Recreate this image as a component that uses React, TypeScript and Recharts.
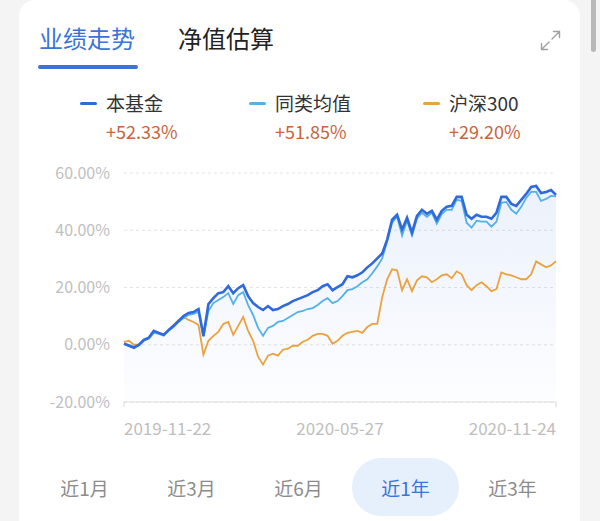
import React from "react";
import { ComposedChart, Area, Line, XAxis, YAxis, CartesianGrid } from "recharts";

// 业绩走势 (近1年) — cumulative return, %
const fund = [
  0.35, -0.35, -1.04, 0, 1.73, 2.43, 4.85, 4.16, 3.47, 5.2, 6.59, 8.32, 10.05, 11.09, 11.44, 12.48,
  3.12, 14.21, 16.29, 18.02, 18.37, 20.45, 18.02, 19.76, 20.8, 16.98, 14.56, 13.17, 12.13, 13.52, 12.13, 12.48,
  13.52, 14.21, 15.25, 15.94, 16.64, 17.33, 18.37, 19.06, 20.45, 21.14, 19.06, 20.1, 21.14, 23.92, 23.57, 24.26,
  25.3, 27.04, 28.42, 30.16, 31.89, 36.74, 43.67, 45.41, 40.21, 44.37, 39.17, 45.06, 47.14, 45.75, 46.79, 43.67,
  46.79, 48.18, 48.53, 51.65, 51.65, 45.41, 44.02, 45.41, 44.71, 44.71, 44.02, 46.1, 51.65, 51.65, 49.22, 48.53,
  50.61, 52.69, 55.11, 55.46, 53.03, 53.38, 54.07, 52.33,
];
const peer = [
  0.35, 0, -0.69, -0.35, 1.39, 2.08, 4.16, 3.81, 3.12, 4.85, 6.24, 7.97, 9.36, 10.4, 10.75, 11.44,
  2.77, 11.79, 14.56, 15.6, 16.64, 18.02, 14.21, 17.33, 18.37, 13.86, 10.4, 5.89, 3.12, 5.89, 6.59, 7.97,
  8.32, 9.36, 10.4, 11.44, 11.79, 12.48, 12.82, 13.86, 15.25, 16.29, 14.56, 15.25, 16.98, 19.06, 19.41, 20.45,
  21.84, 22.88, 24.96, 27.38, 30.16, 36.05, 42.63, 44.71, 38.13, 43.33, 38.13, 44.02, 46.1, 44.71, 46.1, 42.29,
  45.75, 47.14, 47.14, 50.61, 50.26, 42.63, 40.9, 43.33, 42.98, 42.98, 41.25, 42.98, 49.57, 49.91, 47.14, 45.75,
  48.18, 51.3, 53.38, 53.38, 50.26, 50.95, 51.99, 51.85,
];
const csi300 = [
  1.04, 1.39, 0, 0, 1.39, 2.43, 4.51, 4.16, 3.47, 5.2, 6.93, 8.67, 9.71, 8.67, 7.97, 6.93,
  -3.47, 1.39, 3.12, 4.51, 7.28, 7.97, 3.47, 6.59, 9.71, 4.85, 1.39, -4.16, -6.93, -3.81, -3.12, -3.81,
  -1.73, -1.39, -0.35, -0.35, 1.04, 1.73, 3.12, 3.81, 3.81, 3.12, 0.35, 1.39, 3.12, 4.16, 4.51, 4.85,
  4.16, 6.24, 7.28, 7.28, 16.64, 22.88, 26.34, 26.0, 19.06, 22.88, 18.72, 22.53, 23.92, 23.57, 21.84, 22.88,
  24.26, 24.61, 23.22, 25.65, 24.61, 20.8, 19.06, 20.8, 21.84, 20.45, 18.72, 19.41, 25.3, 24.61, 24.26, 23.57,
  22.88, 22.88, 24.61, 29.12, 28.08, 27.04, 27.73, 29.2,
];

const xLabels = ["2019-11-22", "2020-05-27", "2020-11-24"];
const yTicks = [-20, 0, 20, 40, 60];
const tabs = ["业绩走势", "净值估算"];
const ranges = ["近1月", "近3月", "近6月", "近1年", "近3年"];
const activeRange = "近1年";

const legendItems = [
  { name: "本基金", value: "+52.33%", color: "#3069dc", left: 80 },
  { name: "同类均值", value: "+51.85%", color: "#52b2e8", left: 249 },
  { name: "沪深300", value: "+29.20%", color: "#eaa23f", left: 423 },
];

const data = fund.map((v, i) => ({ i, fund: v, peer: peer[i], csi: csi300[i] }));
const last = fund.length - 1;
const xTicks = [0, last / 2, last];

const FONT = '"Noto Sans CJK SC", "Noto Sans", sans-serif';
const BLUE = "#3b74d8";

const XTick = (props: any) => {
  const { x, y, payload } = props;
  const idx = xTicks.indexOf(payload.value);
  const anchor = idx === 0 ? "start" : idx === xTicks.length - 1 ? "end" : "middle";
  return (
    <g>
      {idx !== 1 && <line x1={x} x2={x} y1={y - 8} y2={y - 3} stroke="#d6d6d6" />}
      <text x={x} y={y + 25} textAnchor={anchor} fill="#bebebe" fontSize={17} fontFamily={FONT}>
        {xLabels[idx]}
      </text>
    </g>
  );
};

export default function App() {
  return (
    <div
      style={{
        position: "fixed",
        left: 0,
        top: 0,
        width: 600,
        height: 521,
        background: "#f4f4f4",
        overflow: "hidden",
        fontFamily: FONT,
      }}
    >
      {/* card */}
      <div
        style={{
          position: "absolute",
          left: 19,
          top: 0,
          width: 561,
          height: 560,
          background: "#fff",
          borderRadius: 16,
        }}
      />
      {/* scrollbar */}
      <div style={{ position: "absolute", left: 591, top: -4, width: 5, height: 56, borderRadius: 3, background: "#b8b8b8" }} />

      {/* tabs */}
      {tabs.map((t, i) => (
        <div
          key={t}
          style={{
            position: "absolute",
            left: i === 0 ? 39 : 178,
            top: 24,
            fontSize: 24,
            lineHeight: "28px",
            color: i === 0 ? BLUE : "#222",
            whiteSpace: "nowrap",
          }}
        >
          {t}
        </div>
      ))}
      <div style={{ position: "absolute", left: 38, top: 65, width: 100, height: 4, borderRadius: 2, background: BLUE }} />

      {/* expand icon */}
      <svg style={{ position: "absolute", left: 540, top: 30 }} width={21} height={21} viewBox="0 0 21 21">
        <g stroke="#a0a0a0" strokeWidth={1.4} fill="none" strokeLinecap="round">
          <path d="M12 9 L19.5 1.5 M13.5 1.5 H19.5 V7.5" />
          <path d="M9 12 L1.5 19.5 M1.5 13.5 V19.5 H7.5" />
        </g>
      </svg>

      {/* legend */}
      {legendItems.map((it) => (
        <div key={it.name}>
          <div
            style={{
              position: "absolute",
              left: it.left,
              top: 102,
              width: 17,
              height: 3,
              borderRadius: 1.5,
              background: it.color,
            }}
          />
          <div
            style={{
              position: "absolute",
              left: it.left + 26,
              top: 91,
              fontSize: 19,
              lineHeight: "24px",
              color: "#333",
              whiteSpace: "nowrap",
            }}
          >
            {it.name}
          </div>
          <div
            style={{
              position: "absolute",
              left: it.left + 26,
              top: 119,
              fontSize: 18,
              lineHeight: "24px",
              color: "#c8643c",
              whiteSpace: "nowrap",
            }}
          >
            {it.value}
          </div>
        </div>
      ))}

      {/* chart */}
      <div style={{ position: "absolute", left: 0, top: 150 }}>
        <ComposedChart width={600} height={300} data={data} margin={{ top: 23, right: 44, left: 50, bottom: 18 }}>
          <defs>
            <linearGradient id="fundFill" x1="0" y1="0" x2="0" y2="1">
              <stop offset="0%" stopColor="#3d74db" stopOpacity={0.17} />
              <stop offset="100%" stopColor="#3d74db" stopOpacity={0.02} />
            </linearGradient>
          </defs>
          <CartesianGrid vertical={false} stroke="#e4e4e4" strokeDasharray="3 3" />
          <XAxis
            dataKey="i"
            type="number"
            domain={[0, last]}
            ticks={xTicks}
            interval={0}
            height={30}
            axisLine={{ stroke: "#dedede" }}
            tickLine={false}
            tick={<XTick />}
          />
          <YAxis
            type="number"
            domain={[-20, 60]}
            ticks={yTicks}
            width={74}
            axisLine={false}
            tickLine={false}
            tickSize={0}
            tickMargin={14}
            tick={{ fill: "#c0c0c0", fontSize: 16, fontFamily: FONT }}
            tickFormatter={(v: number) => `${v.toFixed(2)}%`}
          />
          <Area
            dataKey="fund"
            type="linear"
            stroke="none"
            fill="url(#fundFill)"
            baseValue="dataMin"
            isAnimationActive={false}
          />
          <Line dataKey="csi" type="linear" stroke="#eaa23f" strokeWidth={1.8} dot={false} isAnimationActive={false} />
          <Line dataKey="peer" type="linear" stroke="#52b2e8" strokeWidth={1.8} dot={false} isAnimationActive={false} />
          <Line dataKey="fund" type="linear" stroke="#3069dc" strokeWidth={2.6} dot={false} isAnimationActive={false} />
        </ComposedChart>
      </div>

      {/* range buttons */}
      <div style={{ position: "absolute", left: 31, top: 458, display: "flex" }}>
        {ranges.map((r) => {
          const active = r === activeRange;
          return (
            <div
              key={r}
              style={{
                width: 107,
                height: 58,
                borderRadius: 29,
                background: active ? "#e6effc" : "transparent",
                color: active ? BLUE : "#8c8c8c",
                fontSize: 19,
                display: "flex",
                alignItems: "center",
                justifyContent: "center",
              }}
            >
              {r}
            </div>
          );
        })}
      </div>
    </div>
  );
}
